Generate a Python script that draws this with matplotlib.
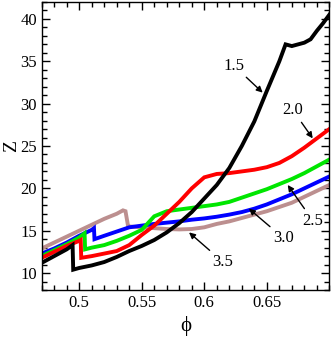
import matplotlib
matplotlib.use("Agg")
import matplotlib.pyplot as plt
from matplotlib.ticker import MultipleLocator

plt.rcParams['font.family'] = ['Liberation Serif', 'DejaVu Serif']

# phi / Z values, one pair of lists per curve
phi_15 = [0.47, 0.48, 0.49, 0.4947, 0.4952, 0.50, 0.51, 0.52, 0.53, 0.54, 0.55, 0.56,
          0.57, 0.58, 0.59, 0.60, 0.61, 0.62, 0.63, 0.64, 0.65, 0.66, 0.665, 0.67,
          0.68, 0.685, 0.69, 0.695, 0.70]
z_15 = [11.2, 12.0, 12.8, 13.3, 10.4, 10.6, 10.9, 11.3, 11.9, 12.6, 13.2, 13.9,
        14.8, 15.9, 17.2, 18.8, 20.4, 22.4, 25.0, 27.9, 31.5, 35.0, 37.0, 36.8,
        37.2, 37.6, 38.6, 39.5, 40.5]

phi_20 = [0.47, 0.48, 0.49, 0.50, 0.5012, 0.5016, 0.51, 0.52, 0.53, 0.54, 0.55, 0.56,
          0.57, 0.58, 0.59, 0.60, 0.61, 0.62, 0.63, 0.64, 0.65, 0.66, 0.67, 0.68,
          0.69, 0.70]
z_20 = [11.8, 12.5, 13.2, 13.8, 13.9, 11.8, 12.0, 12.3, 12.6, 13.3, 14.5, 15.6,
        17.0, 18.4, 20.0, 21.3, 21.7, 21.8, 22.0, 22.2, 22.5, 23.0, 23.8, 24.8,
        25.9, 27.0]

phi_25 = [0.47, 0.48, 0.49, 0.50, 0.5043, 0.5047, 0.51, 0.52, 0.53, 0.54, 0.55, 0.56,
          0.57, 0.58, 0.59, 0.60, 0.61, 0.62, 0.63, 0.64, 0.65, 0.66, 0.67,
          0.68, 0.69, 0.70]
z_25 = [12.0, 12.7, 13.4, 14.2, 14.7, 12.8, 13.0, 13.3, 13.8, 14.4, 15.1, 16.7,
        17.3, 17.5, 17.7, 17.9, 18.1, 18.4, 18.9, 19.4, 19.9, 20.5, 21.1,
        21.8, 22.6, 23.4]

phi_30 = [0.47, 0.48, 0.49, 0.50, 0.51, 0.5118, 0.5122, 0.52, 0.53, 0.54, 0.55, 0.56,
          0.57, 0.58, 0.59, 0.60, 0.61, 0.62, 0.63, 0.64, 0.65, 0.66, 0.67, 0.68,
          0.69, 0.70]
z_30 = [12.3, 12.9, 13.6, 14.4, 15.1, 15.3, 14.0, 14.4, 14.9, 15.4, 15.6, 15.8,
        15.95, 16.1, 16.3, 16.45, 16.65, 16.9, 17.2, 17.6, 18.1, 18.7, 19.3, 20.0,
        20.7, 21.4]

phi_35 = [0.47, 0.48, 0.49, 0.50, 0.51, 0.52, 0.53, 0.535, 0.537, 0.539, 0.54, 0.55,
          0.56, 0.57, 0.58, 0.59, 0.60, 0.61, 0.62, 0.63, 0.64, 0.65, 0.66, 0.67,
          0.68, 0.69, 0.70]
z_35 = [12.9, 13.6, 14.3, 15.0, 15.7, 16.4, 17.0, 17.4, 17.3, 15.6, 15.5, 15.4,
        15.3, 15.2, 15.15, 15.2, 15.4, 15.8, 16.1, 16.5, 16.9, 17.3, 17.8, 18.3,
        19.0, 19.7, 20.4]

labels = ['1.5', '2.0', '2.5', '3.0', '3.5']
colors = ['black', 'red', '#00e600', 'blue', '#bc8f8f']

# label text position and arrow tip, (phi, Z)
label_xy = [(0.6236, 34.5), (0.671, 29.2), (0.6868, 16.2), (0.6635, 14.1), (0.615, 11.3)]
tip_xy = [(0.6467, 31.3), (0.6867, 25.9), (0.6667, 20.4), (0.6357, 17.6), (0.5878, 14.8)]

fig = plt.figure(figsize=(3.32, 3.37), dpi=100)
ax = fig.add_axes([0.1256, 0.1395, 0.8664, 0.8545])

series = [(phi_35, z_35), (phi_30, z_30), (phi_25, z_25), (phi_20, z_20), (phi_15, z_15)]
for (px, pz), col in zip(series, colors[::-1]):
    ax.plot(px, pz, color=col, lw=2.8, solid_joinstyle='miter')

for lab, txy, axy in zip(labels, label_xy, tip_xy):
    ax.annotate(lab, xy=axy, xytext=txy, ha='center', va='center', fontsize=12,
                arrowprops=dict(arrowstyle='-|>', color='black', lw=1.0,
                                mutation_scale=9, shrinkA=1, shrinkB=0))

ax.set_xlim(0.47, 0.70)
ax.set_ylim(8, 42)
ax.xaxis.set_minor_locator(MultipleLocator(0.01))
ax.yaxis.set_minor_locator(MultipleLocator(1))
ax.set_xticks([0.5, 0.55, 0.6, 0.65])
ax.set_xticklabels(['0.5', '0.55', '0.6', '0.65'])
ax.set_yticks([10, 15, 20, 25, 30, 35, 40])
ax.tick_params(which='both', direction='in', top=True, right=True, labelsize=12, width=1.0)
ax.tick_params(which='major', length=6)
ax.tick_params(which='minor', length=3.5)
for sp in ax.spines.values():
    sp.set_linewidth(1.0)

ax.set_xlabel('ϕ', fontsize=15, labelpad=4)
ax.set_ylabel('Z', fontsize=14)
ax.yaxis.set_label_coords(-0.0745, 0.5)

fig.savefig('out.png', dpi=100)
